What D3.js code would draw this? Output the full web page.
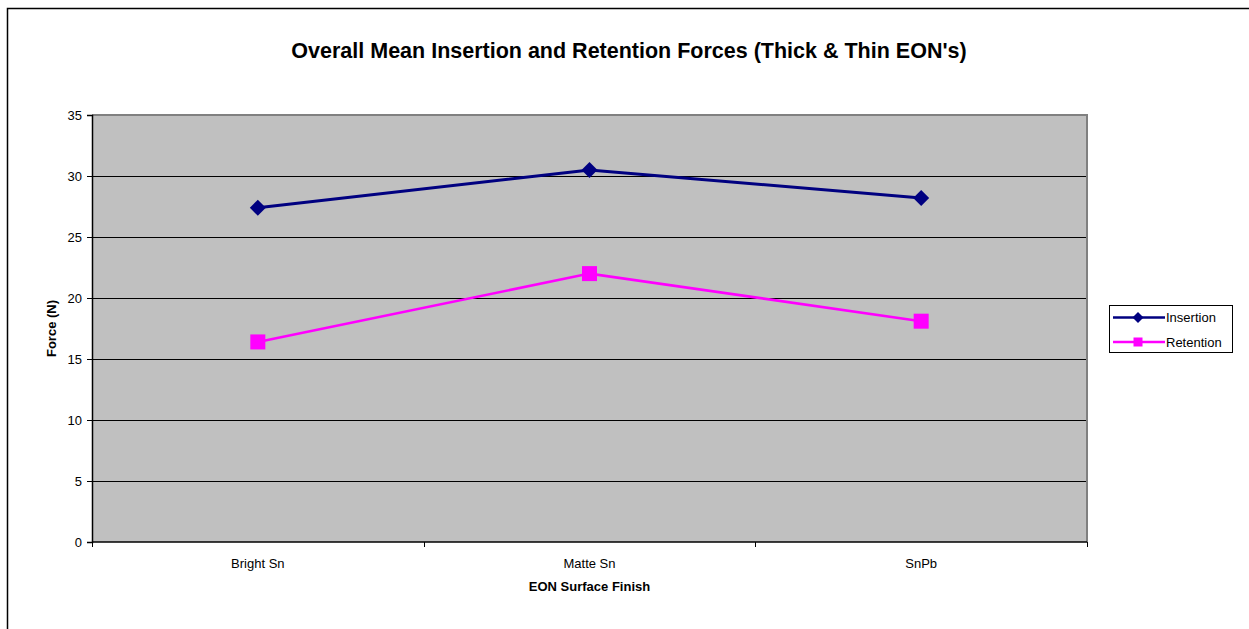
<!DOCTYPE html>
<html>
<head>
<meta charset="utf-8">
<script src="https://cdn.jsdelivr.net/npm/d3@7"></script>
<style>
  html, body { margin: 0; padding: 0; background: #fff; }
  svg { display: block; font-family: "Liberation Sans", Arial, sans-serif; }
</style>
</head>
<body>
<svg id="chart" width="1249" height="629"></svg>
<script>
// Surface finishes on the category axis
const categories = ["Bright Sn", "Matte Sn", "SnPb"];
// Mean forces in newtons
const insertion = [27.4, 30.5, 28.2];
const retention = [16.4, 22.0, 18.1];
const yTicks = [0, 5, 10, 15, 20, 25, 30, 35];

const series = [
  { name: "Insertion", values: insertion, color: "#000080", marker: "diamond" },
  { name: "Retention", values: retention, color: "#FF00FF", marker: "square" }
];

const svg = d3.select("#chart");
const plot = { left: 92, top: 115, right: 1087, bottom: 542 };

// Chart frame
svg.append("rect")
  .attr("x", 7.5).attr("y", 8.5)
  .attr("width", 1260).attr("height", 640)
  .attr("fill", "#fff").attr("stroke", "#000").attr("stroke-width", 1.5);

const x = d3.scaleBand().domain(categories).range([plot.left, plot.right]);
const y = d3.scaleLinear().domain([0, 35]).range([plot.bottom, plot.top]);

// Plot area background
svg.append("rect")
  .attr("x", plot.left).attr("y", plot.top)
  .attr("width", plot.right - plot.left).attr("height", plot.bottom - plot.top)
  .attr("fill", "#C0C0C0");

// Horizontal gridlines
svg.append("g").selectAll("line")
  .data(yTicks.filter(t => t > 0 && t < 35))
  .join("line")
  .attr("x1", plot.left).attr("x2", plot.right)
  .attr("y1", d => Math.round(y(d)) + 0.5).attr("y2", d => Math.round(y(d)) + 0.5)
  .attr("stroke", "#000").attr("stroke-width", 1);

// Top and right edges of the plot area
svg.append("path")
  .attr("d", `M${plot.left},${plot.top} H${plot.right} V${plot.bottom}`)
  .attr("fill", "none").attr("stroke", "#808080").attr("stroke-width", 2);

// Y axis
const yAxis = d3.axisLeft(y).tickValues(yTicks).tickSize(5).tickPadding(5);
const gy = svg.append("g")
  .attr("transform", `translate(${plot.left},0)`)
  .call(yAxis);
gy.select(".domain").attr("stroke", "#000").attr("stroke-width", 1.5);
gy.selectAll(".tick line").attr("stroke", "#000");
gy.selectAll(".tick text").attr("font-size", 13).attr("fill", "#000")
  .attr("font-family", "Liberation Sans, Arial, sans-serif");

// X axis: ticks at category boundaries
const gx = svg.append("g")
  .attr("transform", `translate(0,${plot.bottom})`);
gx.append("line")
  .attr("x1", plot.left).attr("x2", plot.right)
  .attr("y1", 0).attr("y2", 0)
  .attr("stroke", "#000").attr("stroke-width", 1.5);
const bounds = categories.map(c => x(c)).concat([x(categories[categories.length - 1]) + x.bandwidth()]);
gx.selectAll("line.tick")
  .data(bounds)
  .join("line")
  .attr("class", "tick")
  .attr("x1", d => Math.round(d) + 0.5).attr("x2", d => Math.round(d) + 0.5)
  .attr("y1", 0).attr("y2", 5)
  .attr("stroke", "#000");
gx.selectAll("text")
  .data(categories)
  .join("text")
  .attr("x", d => x(d) + x.bandwidth() / 2)
  .attr("y", 26)
  .attr("text-anchor", "middle")
  .attr("font-size", 13)
  .text(d => d);

// Lines and markers
const line = d3.line()
  .x((d, i) => x(categories[i]) + x.bandwidth() / 2)
  .y(d => y(d));

const diamond = s => `M0,${-s} L${s},0 L0,${s} L${-s},0 Z`;

series.forEach(s => {
  svg.append("path")
    .datum(s.values)
    .attr("d", line)
    .attr("fill", "none")
    .attr("stroke", s.color)
    .attr("stroke-width", s.marker === "diamond" ? 3 : 2.6);

  const g = svg.append("g");
  s.values.forEach((v, i) => {
    const cx = x(categories[i]) + x.bandwidth() / 2;
    const cy = y(v);
    if (s.marker === "diamond") {
      g.append("path").attr("d", diamond(8))
        .attr("transform", `translate(${cx},${cy})`)
        .attr("fill", s.color);
    } else {
      g.append("rect")
        .attr("x", cx - 7.5).attr("y", cy - 7.5)
        .attr("width", 15).attr("height", 15)
        .attr("fill", s.color);
    }
  });
});

// Title
svg.append("text")
  .attr("x", 629).attr("y", 58)
  .attr("text-anchor", "middle")
  .attr("font-size", 21.5).attr("font-weight", "bold")
  .text("Overall Mean Insertion and Retention Forces (Thick & Thin EON's)");

// Axis titles
svg.append("text")
  .attr("x", (plot.left + plot.right) / 2).attr("y", 591)
  .attr("text-anchor", "middle")
  .attr("font-size", 13).attr("font-weight", "bold")
  .text("EON Surface Finish");

svg.append("text")
  .attr("transform", `translate(56,${(plot.top + plot.bottom) / 2}) rotate(-90)`)
  .attr("text-anchor", "middle")
  .attr("font-size", 13).attr("font-weight", "bold")
  .text("Force (N)");

// Legend
const legend = svg.append("g").attr("transform", "translate(1109,305)");
legend.append("rect")
  .attr("x", 0.5).attr("y", 0.5).attr("width", 123).attr("height", 47)
  .attr("fill", "#fff").attr("stroke", "#000").attr("stroke-width", 1);
series.forEach((s, i) => {
  const ly = 12.5 + i * 24.5;
  legend.append("line")
    .attr("x1", 4).attr("x2", 56).attr("y1", ly).attr("y2", ly)
    .attr("stroke", s.color).attr("stroke-width", 2.5);
  if (s.marker === "diamond") {
    legend.append("path").attr("d", diamond(5.5))
      .attr("transform", `translate(29,${ly})`).attr("fill", s.color);
  } else {
    legend.append("rect").attr("x", 24.5).attr("y", ly - 4.5)
      .attr("width", 9).attr("height", 9).attr("fill", s.color);
  }
  legend.append("text")
    .attr("x", 57).attr("y", ly + 4.5)
    .attr("font-size", 13)
    .text(s.name);
});
</script>
</body>
</html>
